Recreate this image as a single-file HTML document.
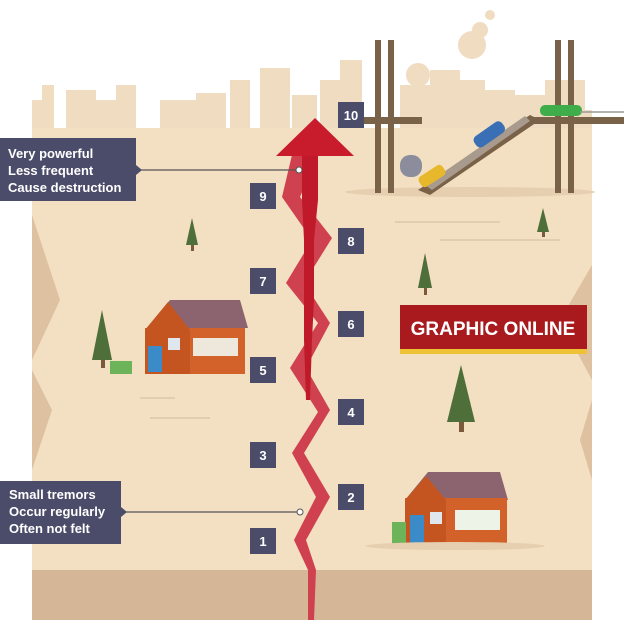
<!DOCTYPE html>
<html><head><meta charset="utf-8"><style>
html,body{margin:0;padding:0;background:#fff;}
svg{display:block}
text{font-family:"Liberation Sans",sans-serif;font-weight:bold;}
</style></head><body>
<svg width="624" height="620" viewBox="0 0 624 620" xmlns="http://www.w3.org/2000/svg">
<rect width="624" height="620" fill="#fff"/>
<!-- skyline -->
<g fill="#efdcc1">
<rect x="32" y="100" width="10" height="40"/><rect x="42" y="85" width="12" height="55"/>
<rect x="66" y="90" width="30" height="50"/><rect x="96" y="100" width="20" height="40"/>
<rect x="116" y="85" width="20" height="55"/><rect x="160" y="100" width="40" height="40"/>
<rect x="196" y="93" width="30" height="47"/><rect x="230" y="80" width="20" height="60"/>
<rect x="260" y="68" width="30" height="72"/><rect x="292" y="95" width="25" height="45"/>
<rect x="320" y="80" width="20" height="60"/><rect x="340" y="60" width="22" height="80"/>
<rect x="400" y="85" width="30" height="55"/><rect x="430" y="70" width="30" height="70"/>
<rect x="460" y="80" width="25" height="60"/><rect x="485" y="90" width="30" height="50"/>
<rect x="515" y="95" width="30" height="45"/><rect x="545" y="80" width="40" height="60"/>
<rect x="585" y="110" width="7" height="30"/>
<circle cx="472" cy="45" r="14"/><circle cx="480" cy="30" r="8"/><circle cx="490" cy="15" r="5"/>
<circle cx="418" cy="75" r="12"/>
</g>
<!-- ground -->
<rect x="32" y="128" width="560" height="442" fill="#f3dfc2"/>
<polygon points="32,215 60,300 32,360" fill="#ddc1a0"/>
<polygon points="32,370 52,410 32,470" fill="#ddc1a0"/>
<polygon points="592,265 560,320 592,380" fill="#ddc1a0"/>
<polygon points="592,400 580,440 592,480" fill="#ddc1a0"/>
<rect x="32" y="570" width="560" height="50" fill="#d5b696"/>
<ellipse cx="470" cy="192" rx="125" ry="5" fill="#e6cfb0"/>
<g stroke="#e3cdb0" stroke-width="2">
<line x1="395" y1="222" x2="500" y2="222"/><line x1="440" y1="240" x2="560" y2="240"/>
<line x1="150" y1="418" x2="210" y2="418"/><line x1="140" y1="398" x2="175" y2="398"/>
</g>
<!-- bridge -->
<g fill="#7a6248">
<rect x="375" y="40" width="6" height="153"/><rect x="388" y="40" width="6" height="153"/>
<rect x="555" y="40" width="6" height="153"/><rect x="568" y="40" width="6" height="153"/>
<rect x="362" y="117" width="60" height="7"/><rect x="533" y="117" width="91" height="7"/>
<polygon points="418,190 530,115 540,120 430,195"/>
</g>
<polygon points="425,185 525,116 530,121 432,190" fill="#a89a8c"/>
<rect x="400" y="155" width="22" height="22" rx="10" fill="#8b8c9c"/>
<rect x="418" y="170" width="28" height="12" rx="4" fill="#e8b82c" transform="rotate(-33 432 176)"/>
<rect x="472" y="128" width="34" height="13" rx="5" fill="#3a6fb5" transform="rotate(-35 489 134)"/>
<rect x="540" y="105" width="42" height="11" rx="5" fill="#3fae4a"/>
<line x1="580" y1="112" x2="624" y2="112" stroke="#999" stroke-width="1.5"/>
<!-- trees -->
<g fill="#4e6e3a">
<polygon points="192,218 186,245 198,245"/><polygon points="425,253 418,288 432,288"/>
<polygon points="543,208 537,232 549,232"/><polygon points="102,310 92,360 112,360"/>
<polygon points="461,365 447,422 475,422"/>
</g>
<g fill="#7a5a3a"><rect x="191" y="245" width="3" height="6"/><rect x="424" y="288" width="3" height="7"/><rect x="542" y="232" width="3" height="5"/><rect x="101" y="360" width="4" height="8"/><rect x="459" y="422" width="5" height="10"/></g>
<!-- house left -->
<polygon points="145,330 170,300 240,300 248,328" fill="#8b6470"/>
<rect x="145" y="328" width="100" height="46" fill="#d2612a"/>
<polygon points="145,330 168,302 190,330 190,374 145,374" fill="#c45520"/>
<rect x="148" y="346" width="14" height="26" fill="#3c8bc9"/>
<rect x="193" y="338" width="45" height="18" fill="#eee8dc"/>
<rect x="168" y="338" width="12" height="12" fill="#dfe6ee"/>
<rect x="110" y="361" width="22" height="13" fill="#6db35a"/>
<!-- house right -->
<polygon points="405,500 428,472 500,472 508,500" fill="#8b6470"/>
<rect x="405" y="498" width="102" height="48" fill="#d2612a"/>
<polygon points="405,500 426,476 446,500 446,546 405,546" fill="#c45520"/>
<rect x="410" y="515" width="14" height="30" fill="#3c8bc9"/>
<rect x="455" y="510" width="45" height="20" fill="#eef3e8"/>
<rect x="430" y="512" width="12" height="12" fill="#dfe6ee"/>
<rect x="392" y="522" width="14" height="24" fill="#6db35a"/>
<ellipse cx="455" cy="546" rx="90" ry="4" fill="#e6cfb0"/>
<!-- crack -->
<polygon fill="#d0414f" points="292,155 282,197 312,240 286,283 318,323 290,368 318,412 292,453 316,497 294,540 308,570 308,620 314,620 316,570 306,540 330,497 304,453 330,410 306,368 330,323 304,283 332,238 300,197 318,155"/>
<polygon fill="#c01a2a" points="302,150 318,150 318,200 314,240 314,300 312,340 310,400 306,400 304,340 304,300 304,240 302,200"/>
<polygon fill="#c81c2c" points="315,118 276,156 354,156"/>
<!-- callouts -->
<line x1="136" y1="170" x2="299" y2="170" stroke="#555" stroke-width="1.2"/>
<circle cx="299" cy="170" r="3" fill="#fff" stroke="#555"/>
<rect x="0" y="138" width="136" height="63" fill="#4a4c6a"/>
<polygon points="136,165 142,170 136,175" fill="#4a4c6a"/>
<text x="8" y="158" font-size="13" fill="#fff">Very powerful</text>
<text x="8" y="175" font-size="13" fill="#fff">Less frequent</text>
<text x="8" y="192" font-size="13" fill="#fff">Cause destruction</text>
<line x1="121" y1="512" x2="300" y2="512" stroke="#555" stroke-width="1.2"/>
<circle cx="300" cy="512" r="3" fill="#fff" stroke="#555"/>
<rect x="0" y="481" width="121" height="63" fill="#4a4c6a"/>
<polygon points="121,507 127,512 121,517" fill="#4a4c6a"/>
<text x="9" y="499" font-size="13" fill="#fff">Small tremors</text>
<text x="9" y="516" font-size="13" fill="#fff">Occur regularly</text>
<text x="9" y="533" font-size="13" fill="#fff">Often not felt</text>
<!-- numbers -->
<g fill="#4a4c6a">
<rect x="338" y="102" width="26" height="26"/><rect x="250" y="183" width="26" height="26"/>
<rect x="338" y="228" width="26" height="26"/><rect x="250" y="268" width="26" height="26"/>
<rect x="338" y="311" width="26" height="26"/><rect x="250" y="357" width="26" height="26"/>
<rect x="338" y="399" width="26" height="26"/><rect x="250" y="442" width="26" height="26"/>
<rect x="338" y="484" width="26" height="26"/><rect x="250" y="528" width="26" height="26"/>
</g>
<g fill="#fff" font-size="13" text-anchor="middle">
<text x="351" y="120">10</text><text x="263" y="201">9</text><text x="351" y="246">8</text>
<text x="263" y="286">7</text><text x="351" y="329">6</text><text x="263" y="375">5</text>
<text x="351" y="417">4</text><text x="263" y="460">3</text><text x="351" y="502">2</text>
<text x="263" y="546">1</text>
</g>
<!-- logo -->
<rect x="400" y="348" width="187" height="6" fill="#efc135"/>
<rect x="400" y="305" width="187" height="44" fill="#a81a1e"/>
<text x="493" y="335" font-size="19" fill="#fff" text-anchor="middle">GRAPHIC ONLINE</text>
</svg>
</body></html>
